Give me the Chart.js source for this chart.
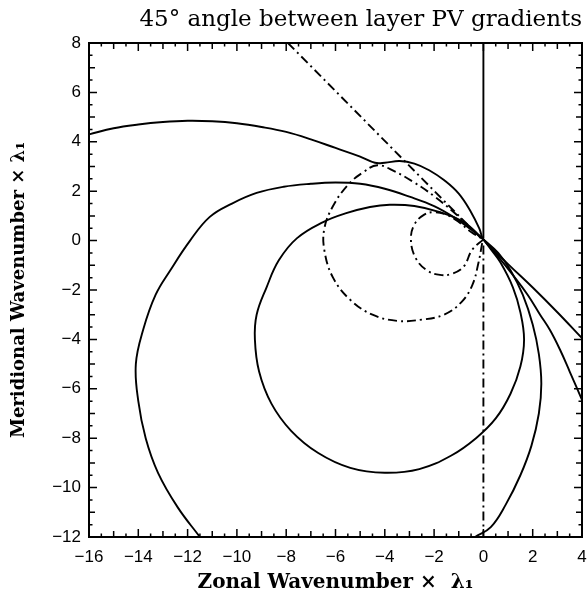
<!DOCTYPE html>
<html><head><meta charset="utf-8">
<script src="https://cdn.jsdelivr.net/npm/chart.js@4/dist/chart.umd.min.js"></script>
<style>html,body{margin:0;padding:0;background:#fff}#wrap{width:587px;height:597px}</style>
</head><body><div id="wrap"><canvas id="c" width="587" height="597"></canvas></div>
<script>
// ---- tick labels ----
const xTicks = [-16,-14,-12,-10,-8,-6,-4,-2,0,2,4];
const yTicks = [-12,-10,-8,-6,-4,-2,0,2,4,6,8];
const minorStep = 0.5;

// ---- curves (x = zonal, y = meridional) ----
const topCurveX = [-16,-15,-14,-13,-12,-11,-10,-9,-8,-7,-6,-5,-4.4,-4.0,-3.4,-2.8,-2.2,-1.6,-1.0,-0.5,-0.15,0,1,2,3,4];
const topCurveY = [4.3,4.55,4.7,4.8,4.85,4.83,4.75,4.6,4.4,4.1,3.75,3.4,3.15,3.15,3.22,3.12,2.85,2.45,1.9,1.15,0.45,0.05,-0.95,-1.9,-2.9,-3.95];

const bigLoopX = [-11.5,-12.4,-13.2,-13.7,-14.0,-14.1,-13.8,-13.3,-12.7,-11.9,-11.1,-10.2,-9.2,-8.1,-7.0,-6.0,-5.0,-4.0,-3.0,-2.0,-1.2,-0.5,0,0.6,1.1,1.6,2.0,2.25,2.35,2.25,1.95,1.5,0.9,0.3,-0.34];
const bigLoopY = [-12,-10.8,-9.4,-8,-6.5,-5.0,-3.6,-2.2,-1.2,0,0.96,1.5,1.93,2.18,2.3,2.35,2.3,2.1,1.78,1.4,0.95,0.45,0.05,-0.5,-1.2,-2.2,-3.4,-4.6,-5.8,-7.0,-8.3,-9.5,-10.7,-11.6,-12];

const innerLoopX = [0,-0.8,-1.76,-2.8,-3.8,-4.6,-5.6,-6.5,-7.56,-8.3,-8.8,-9.2,-9.27,-9.1,-8.6,-7.8,-6.7,-5.4,-4.0,-2.6,-1.3,-0.3,0.5,1.1,1.5,1.65,1.5,1.2,0.7,0.3,0];
const innerLoopY = [0.05,0.75,1.15,1.4,1.45,1.36,1.1,0.75,0.1,-0.8,-1.9,-3.0,-4.0,-5.3,-6.6,-7.7,-8.6,-9.2,-9.4,-9.25,-8.7,-8.0,-7.2,-6.2,-5.1,-4.0,-2.9,-1.9,-0.9,-0.35,0.05];

const lowerBranchX = [0,0.6,1.2,1.8,2.3,2.7,3.1,3.5,4];
const lowerBranchY = [0.05,-0.65,-1.4,-2.2,-3.0,-3.62,-4.4,-5.3,-6.45];

const vertSolidX = [0,0];
const vertSolidY = [0.1,8];

const diagDashX = [-7.93,-0.1];
const diagDashY = [8,0.1];

const vertDashX = [0,0];
const vertDashY = [-0.2,-12];

const dashLoopX = [-0.05,-0.2,-0.45,-0.9,-1.6,-2.5,-3.5,-4.5,-5.4,-6.1,-6.45,-6.45,-6.1,-5.5,-4.9,-4.3,-3.6,-2.8,-2.0,-1.2,-0.5,0];
const dashLoopY = [-0.1,-0.9,-1.8,-2.5,-3.0,-3.2,-3.25,-3.0,-2.4,-1.5,-0.4,0.5,1.4,2.25,2.75,3.05,2.8,2.35,1.8,1.15,0.5,0.05];

const smallLoopX = [0,-0.46,-0.8,-1.3,-1.76,-2.3,-2.75,-2.94,-2.8,-2.4,-2.0,-1.5,-1.0,-0.5,0];
const smallLoopY = [0.05,-0.38,-1.05,-1.35,-1.39,-1.2,-0.7,0.02,0.65,1.05,1.15,1.05,0.75,0.35,0.05];

function pts(xs, ys){ return xs.map((x,i)=>({x:x, y:ys[i]})); }
const DASHDOT = [9,4,2,4];
function ds(xs, ys, dashed, tension){
  return {data: pts(xs,ys), showLine:true, pointRadius:0, borderColor:'#000',
          borderWidth:1.9, borderDash: dashed ? DASHDOT : [], tension: tension, fill:false};
}

const frameTicks = {
  id:'frameTicks',
  afterDraw(chart){
    const {ctx, chartArea:a, scales:{x, y}} = chart;
    ctx.save();
    ctx.strokeStyle = '#000';
    ctx.lineWidth = 2;
    ctx.strokeRect(a.left, a.top, a.right-a.left, a.bottom-a.top);
    ctx.lineWidth = 1.5;
    const len = v => (Math.abs(v % 2) < 1e-6) ? 8 : (Math.abs(v % 1) < 1e-6 ? 6 : 3.5);
    ctx.beginPath();
    for (let v = x.min; v <= x.max + 1e-9; v += minorStep){
      const px = x.getPixelForValue(v), L = len(v);
      ctx.moveTo(px, a.bottom); ctx.lineTo(px, a.bottom - L);
      ctx.moveTo(px, a.top); ctx.lineTo(px, a.top + L);
    }
    for (let v = y.min; v <= y.max + 1e-9; v += minorStep){
      const py = y.getPixelForValue(v), L = len(v);
      ctx.moveTo(a.left, py); ctx.lineTo(a.left + L, py);
      ctx.moveTo(a.right, py); ctx.lineTo(a.right - L, py);
    }
    ctx.stroke();
    ctx.restore();
  }
};

const fmt = v => (v < 0 ? '\u2212' + Math.abs(v) : String(v));

new Chart(document.getElementById('c'), {
  type:'scatter',
  data:{datasets:[
    ds(topCurveX, topCurveY, false, 0.4),
    ds(bigLoopX, bigLoopY, false, 0.4),
    ds(innerLoopX, innerLoopY, false, 0.4),
    ds(lowerBranchX, lowerBranchY, false, 0.4),
    ds(vertSolidX, vertSolidY, false, 0),
    ds(diagDashX, diagDashY, true, 0),
    ds(vertDashX, vertDashY, true, 0),
    ds(dashLoopX, dashLoopY, true, 0.4),
    ds(smallLoopX, smallLoopY, true, 0.4)
  ]},
  plugins:[frameTicks],
  options:{
    responsive:false, animation:false, devicePixelRatio:1,
    layout:{padding:{left:0,right:0,top:0,bottom:0}},
    plugins:{
      legend:{display:false}, tooltip:{enabled:false},
      title:{display:true, fullSize:false, text:'45\u00b0 angle between layer PV gradients', align:'end',
             color:'#000', font:{family:'DejaVu Serif', size:23, weight:'normal'},
             padding:{top:6, bottom:9.4}}
    },
    scales:{
      x:{type:'linear', min:-16, max:4,
         afterFit: s => { s.height = 60; s.paddingRight = 5; s.paddingLeft = 0; },
         afterBuildTicks: s => { s.ticks = xTicks.map(v => ({value:v})); },
         ticks:{callback: fmt, color:'#000', padding:10, maxRotation:0, autoSkip:false,
                font:{family:'Liberation Sans', size:17}},
         grid:{display:false, drawTicks:false}, border:{display:false},
         title:{display:true, text:'Zonal Wavenumber \u00d7  \u03bb\u2081', color:'#000',
                font:{family:'DejaVu Serif', size:20, weight:'bold'}, padding:{top:0,bottom:2}}},
      y:{type:'linear', min:-12, max:8,
         afterFit: s => { s.width = 89; },
         afterBuildTicks: s => { s.ticks = yTicks.map(v => ({value:v})); },
         ticks:{callback: fmt, color:'#000', padding:8, autoSkip:false,
                font:{family:'Liberation Sans', size:17}},
         grid:{display:false, drawTicks:false}, border:{display:false},
         title:{display:true, text:'Meridional Wavenumber \u00d7 \u03bb\u2081', color:'#000',
                font:{family:'DejaVu Serif', size:18, weight:'bold'}, padding:{top:9,bottom:0}}}
    }
  }
});
</script></body></html>
